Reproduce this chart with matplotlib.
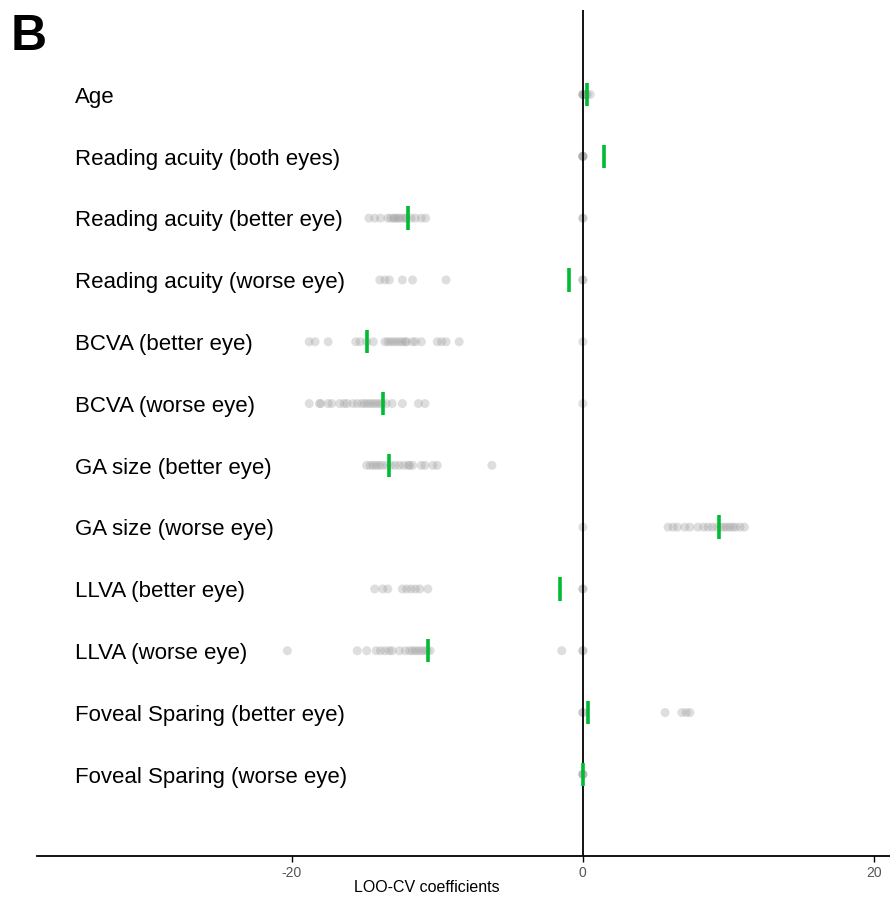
import matplotlib
matplotlib.use("Agg")
import matplotlib.pyplot as plt

plt.rcParams['font.family'] = ['Liberation Sans', 'DejaVu Sans']

features = [
    "Age",
    "Reading acuity (both eyes)",
    "Reading acuity (better eye)",
    "Reading acuity (worse eye)",
    "BCVA (better eye)",
    "BCVA (worse eye)",
    "GA size (better eye)",
    "GA size (worse eye)",
    "LLVA (better eye)",
    "LLVA (worse eye)",
    "Foveal Sparing (better eye)",
    "Foveal Sparing (worse eye)",
]

# full-model coefficient per feature
full_coef = [0.27, 1.44, -12.0, -0.96, -14.8, -13.75, -13.3, 9.35, -1.58, -10.65, 0.34, 0.0]

# leave-one-out coefficients per feature
loo_coef = [
    [0.0, 0.0, 0.1, 0.3, 0.5, 0.2, 0.0],
    [0.0, 0.0, 0.0, 0.0],
    [-14.7, -14.3, -13.9, -13.4, -13.2, -13.0, -12.9, -12.7, -12.6, -12.4, -12.2,
     -12.1, -11.8, -11.5, -11.1, -10.8, 0.0, 0.0],
    [-13.95, -13.6, -13.3, -12.4, -11.7, -9.4, 0.0, 0.0],
    [-18.8, -18.4, -17.5, -15.6, -15.3, -14.85, -14.4, -13.6, -13.4, -13.2, -13.0,
     -12.8, -12.6, -12.4, -12.2, -12.1, -11.7, -11.5, -11.1, -10.0, -9.7, -9.4, -8.5, 0.0],
    [-18.8, -18.1, -18.0, -17.5, -17.25, -16.7, -16.4, -16.2, -15.8, -15.5, -15.2,
     -15.0, -14.8, -14.6, -14.4, -14.2, -14.0, -13.8, -13.5, -13.1, -12.4, -11.3, -10.85, 0.0],
    [-14.85, -14.6, -14.4, -14.2, -14.0, -13.8, -13.5, -13.2, -12.9, -12.6, -12.3,
     -12.0, -11.9, -11.7, -11.1, -10.85, -10.3, -10.0, -6.25],
    [0.0, 5.85, 6.2, 6.5, 7.0, 7.35, 7.9, 8.3, 8.6, 8.9, 9.2, 9.5, 9.7, 9.9,
     10.1, 10.3, 10.5, 10.8, 11.1],
    [-14.3, -13.75, -13.4, -12.4, -12.1, -11.8, -11.5, -11.2, -10.65, 0.0, 0.0],
    [-20.3, -15.5, -14.85, -14.2, -13.9, -13.6, -13.3, -13.1, -12.6, -12.2, -11.9,
     -11.7, -11.5, -11.3, -11.1, -10.9, -10.7, -10.5, -1.45, 0.0, 0.0],
    [0.0, 0.0, 5.65, 6.8, 7.1, 7.35],
    [0.0, 0.0, 0.0],
]

xticks = [-20, 0, 20]

fig = plt.figure(figsize=(8.9, 9), dpi=100)
ax = fig.add_axes([0.0416, 0.049, 0.9584, 0.94])

n = len(features)
for i, (name, coef, loo) in enumerate(zip(features, full_coef, loo_coef)):
    y = n - i
    ax.scatter(loo, [y] * len(loo), s=42, color="#9a9a9a", alpha=0.32,
               edgecolors="none", zorder=2)
    ax.plot([coef, coef], [y - 0.19, y + 0.19], color="#00bb33", lw=2.6,
            solid_capstyle="butt", zorder=4)
    ax.text(-34.9, y - 0.045, name, fontsize=16, va="center", ha="left")

ax.axvline(0, color="black", lw=1.3, zorder=3)

ax.set_xlim(-37.5, 21.1)
ax.set_ylim(-0.32, 13.37)
ax.set_yticks([])
ax.set_xticks(xticks)
ax.set_xticklabels([str(t) for t in xticks], color="#555555", fontsize=10)
ax.tick_params(axis="x", length=4, width=1, color="black", pad=3)
for side in ["left", "right", "top"]:
    ax.spines[side].set_visible(False)
ax.spines["bottom"].set_linewidth(1.3)

ax.set_xlabel("LOO-CV coefficients", fontsize=11.5)
ax.xaxis.set_label_coords(0.457, -0.029)

fig.text(0.012, 0.984, "B", fontsize=36, fontweight="bold", va="top", ha="left")

fig.savefig("out.png", dpi=100)
